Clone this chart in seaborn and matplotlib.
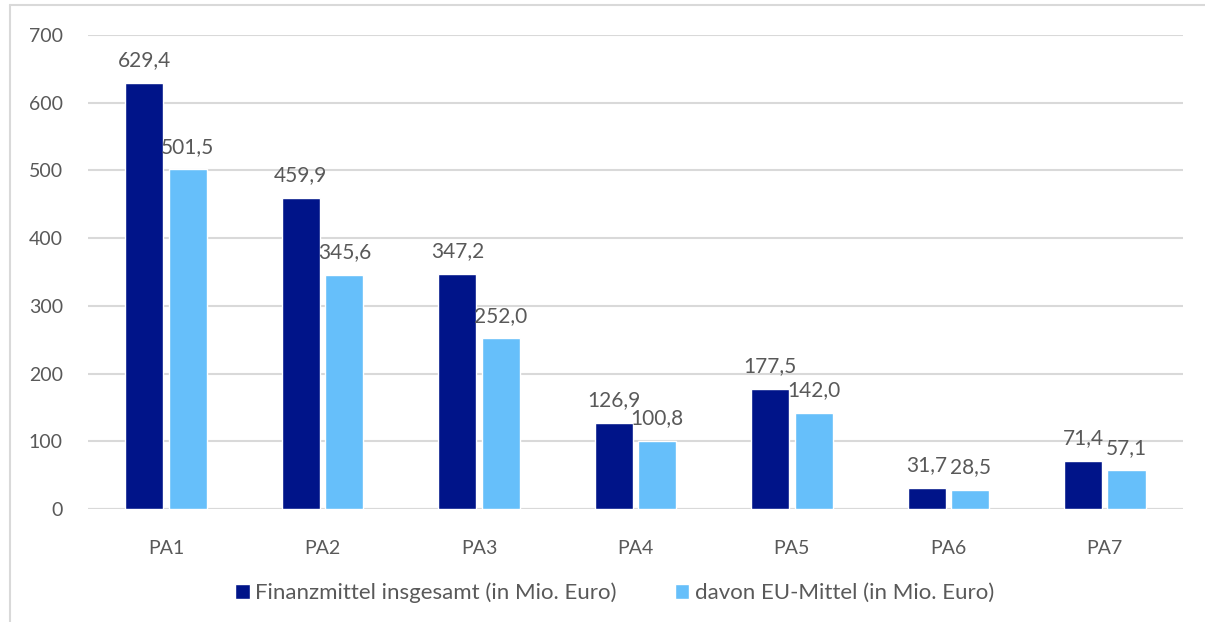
import pandas as pd
import numpy as np
import matplotlib
matplotlib.use('Agg')
import matplotlib.pyplot as plt
import seaborn as sns
from matplotlib.patches import Patch

categories = ['PA1', 'PA2', 'PA3', 'PA4', 'PA5', 'PA6', 'PA7']
total_values = [629.4, 459.9, 347.2, 126.9, 177.5, 31.7, 71.4]
eu_values = [501.5, 345.6, 252.0, 100.8, 142.0, 28.5, 57.1]
series_names = ['Finanzmittel insgesamt (in Mio. Euro)', 'davon EU-Mittel (in Mio. Euro)']
colors = ['#001489', '#66BFFA']
text_color = '#595959'
grid_color = '#D9D9D9'

df = pd.DataFrame({
    'cat': categories * 2,
    'value': total_values + eu_values,
    'series': [series_names[0]] * len(categories) + [series_names[1]] * len(categories),
})

sns.set_style('white')
plt.rcParams['font.family'] = ['Lato', 'DejaVu Sans']

fig = plt.figure(figsize=(12.05, 6.22), dpi=100)
ax = fig.add_axes([0.073, 0.1817, 0.9087, 0.762])

sns.barplot(data=df, x='cat', y='value', hue='series', palette=colors,
            width=0.556, gap=0.125, ax=ax, legend=False, saturation=1)

# value labels with German decimal comma
for cont, vals in zip(ax.containers, [total_values, eu_values]):
    labels = [f'{v:.1f}'.replace('.', ',') for v in vals]
    for bar, lab in zip(cont, labels):
        ax.annotate(lab, (bar.get_x() + bar.get_width() / 2, bar.get_height()),
                    xytext=(0, 12), textcoords='offset points',
                    ha='center', va='baseline', fontsize=15, color=text_color)

ax.set_ylim(0, 700)
ax.set_xlim(-0.5, len(categories) - 0.5)
ax.set_yticks(range(0, 701, 100))
ax.yaxis.grid(True, color=grid_color, linewidth=1.5)
ax.set_axisbelow(True)
for s in ax.spines.values():
    s.set_visible(False)
ax.axhline(0, color=grid_color, linewidth=1.5, zorder=0.5)
ax.tick_params(axis='both', length=0, labelsize=14, colors=text_color)
ax.tick_params(axis='y', pad=18)
ax.tick_params(axis='x', pad=22)
ax.set_xlabel('')
ax.set_ylabel('')

handles = [Patch(facecolor=c, label=n) for c, n in zip(colors, series_names)]
fig.legend(handles=handles, loc='center', bbox_to_anchor=(0.51, 1 - 593 / 622),
           ncol=2, frameon=False, handlelength=0.65, handleheight=0.65,
           handletextpad=0.25, columnspacing=2.6, fontsize=16, labelcolor=text_color)

# outer chart frame (left and top edges)
fig.add_artist(plt.Line2D([10 / 1205, 10 / 1205], [0, 1 - 5 / 622], transform=fig.transFigure,
                          color=grid_color, linewidth=1.5))
fig.add_artist(plt.Line2D([10 / 1205, 1], [1 - 5 / 622, 1 - 5 / 622], transform=fig.transFigure,
                          color=grid_color, linewidth=1.5))

fig.savefig('out.png', dpi=100)
